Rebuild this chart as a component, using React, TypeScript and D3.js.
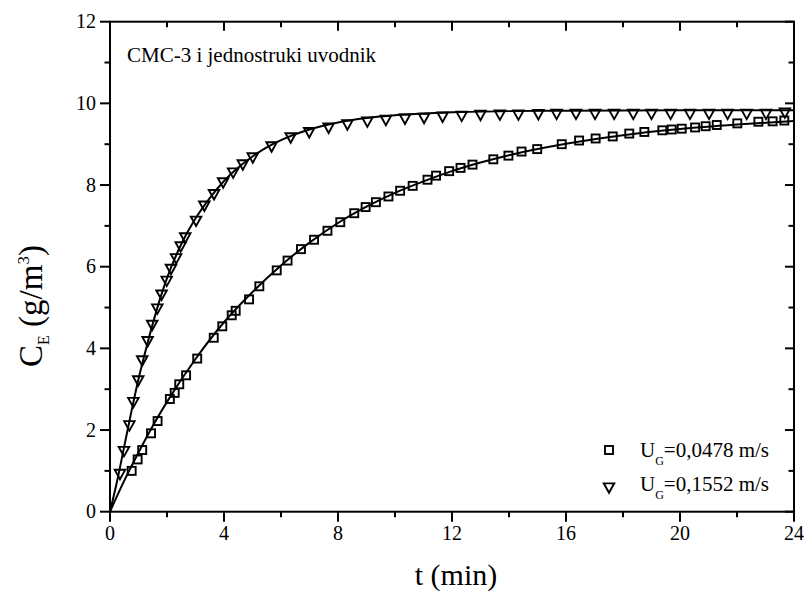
import React from "react";
import * as d3 from "d3";

// ---- data ----
const squareT = [0.76,0.97,1.13,1.44,1.67,2.10,2.27,2.43,2.67,3.06,3.64,3.94,4.27,4.41,4.88,5.24,5.85,6.23,6.70,7.16,7.63,8.08,8.57,8.97,9.33,9.77,10.18,10.62,11.14,11.44,11.90,12.30,12.72,13.45,13.98,14.44,14.99,15.85,16.46,17.04,17.64,18.22,18.75,19.38,19.71,20.06,20.53,20.90,21.29,22.01,22.75,23.25,23.66];
const squareC = [1.00,1.28,1.51,1.92,2.22,2.76,2.91,3.12,3.34,3.75,4.26,4.54,4.81,4.92,5.20,5.52,5.91,6.15,6.43,6.66,6.88,7.09,7.31,7.46,7.58,7.72,7.86,7.98,8.13,8.23,8.34,8.42,8.50,8.63,8.72,8.82,8.88,9.00,9.09,9.14,9.19,9.26,9.30,9.34,9.36,9.38,9.41,9.44,9.47,9.51,9.55,9.56,9.58];

const triT = [0.35,0.49,0.68,0.82,0.99,1.13,1.32,1.48,1.66,1.81,1.99,2.14,2.32,2.48,2.64,3.02,3.31,3.65,3.97,4.32,4.66,5.01,5.67,6.34,6.99,7.67,8.33,9.03,9.68,10.35,11.02,11.67,12.34,13.00,13.68,14.33,15.03,15.67,16.35,17.02,17.69,18.36,19.00,19.67,20.35,21.02,21.67,22.34,23.02,23.68];
const triC = [0.95,1.51,2.14,2.71,3.24,3.73,4.20,4.60,5.00,5.34,5.68,5.97,6.23,6.52,6.74,7.15,7.52,7.80,8.09,8.33,8.53,8.70,8.97,9.19,9.32,9.43,9.51,9.58,9.62,9.65,9.67,9.70,9.72,9.74,9.75,9.75,9.76,9.77,9.77,9.77,9.77,9.77,9.77,9.77,9.77,9.77,9.77,9.77,9.77,9.80];

// fitted curves
const fitSqT = [0,0.5,1,1.5,2,3,4,5,6,7,8,9,10,11,12,13,14,16,18,20,22,24];
const fitSqC = [0,0.76,1.45,2.1,2.69,3.74,4.64,5.38,6.03,6.59,7.07,7.47,7.81,8.09,8.34,8.55,8.73,9.01,9.22,9.37,9.48,9.57];
const fitTrT = [0,0.25,0.5,0.75,1,1.25,1.5,1.75,2,2.5,3,3.5,4,4.5,5,5.5,6,7,8,9,10,11,12,14,16,20,24];
const fitTrC = [0,0.75,1.6,2.45,3.25,3.95,4.6,5.2,5.72,6.55,7.18,7.68,8.1,8.43,8.7,8.92,9.1,9.36,9.53,9.64,9.71,9.75,9.78,9.81,9.82,9.83,9.83];

const xTicks = [0,4,8,12,16,20,24];
const yTicks = [0,2,4,6,8,10,12];
const legendLabels = ["=0,0478 m/s", "=0,1552 m/s"];
const annotation = "CMC-3 i jednostruki uvodnik";

const FONT = "'Liberation Serif', 'Times New Roman', serif";

export default function App() {
  const W = 806, H = 593;
  const x = d3.scaleLinear().domain([0, 24]).range([110, 794]);
  const y = d3.scaleLinear().domain([0, 12]).range([511.7, 21.7]);
  const [x0, x1] = x.range();
  const [y0, y1] = y.range();

  const line = d3.line<[number, number]>().x(d => x(d[0])).y(d => y(d[1])).curve(d3.curveMonotoneX);
  const sqLine = line(fitSqT.map((t, i) => [t, fitSqC[i]]) as [number, number][]) || "";
  const trLine = line(fitTrT.map((t, i) => [t, fitTrC[i]]) as [number, number][]) || "";

  const xMinor = d3.range(0, 25, 2).filter(v => v % 4 !== 0);
  const yMinor = d3.range(1, 12, 2);

  const sq = 8;
  const triPath = (cx: number, cy: number) => {
    const w = 10.5, h = 9.5;
    return `M${cx - w / 2},${cy - h / 3}L${cx + w / 2},${cy - h / 3}L${cx},${cy + (2 * h) / 3}Z`;
  };

  return (
    <svg width={W} height={H} style={{ position: "absolute", left: 0, top: 0, background: "#fff" }} fontFamily={FONT}>
      <rect x={0} y={0} width={W} height={H} fill="#fff" />
      {/* curves */}
      <path d={sqLine} fill="none" stroke="#000" strokeWidth={2} />
      <path d={trLine} fill="none" stroke="#000" strokeWidth={2} />
      {/* markers */}
      {squareT.map((t, i) => (
        <rect key={"s" + i} x={x(t) - sq / 2} y={y(squareC[i]) - sq / 2} width={sq} height={sq}
          fill="none" stroke="#000" strokeWidth={1.9} />
      ))}
      {triT.map((t, i) => (
        <path key={"t" + i} d={triPath(x(t), y(triC[i]))} fill="none" stroke="#000" strokeWidth={1.9} strokeLinejoin="miter" />
      ))}

      {/* frame */}
      <rect x={x0} y={y1} width={x1 - x0} height={y0 - y1} fill="none" stroke="#000" strokeWidth={2} />
      {/* bottom ticks (outward) and top ticks (inward) */}
      {xTicks.map(v => (
        <g key={"xt" + v}>
          <line x1={x(v)} x2={x(v)} y1={y0} y2={y0 + 10} stroke="#000" strokeWidth={2} />
          <line x1={x(v)} x2={x(v)} y1={y1} y2={y1 + 9} stroke="#000" strokeWidth={2} />
          <text x={x(v)} y={540} textAnchor="middle" fontSize={20}>{v}</text>
        </g>
      ))}
      {xMinor.map(v => (
        <g key={"xm" + v}>
          <line x1={x(v)} x2={x(v)} y1={y0} y2={y0 + 5.5} stroke="#000" strokeWidth={2} />
          <line x1={x(v)} x2={x(v)} y1={y1} y2={y1 + 5.5} stroke="#000" strokeWidth={2} />
        </g>
      ))}
      {yTicks.map(v => (
        <g key={"yt" + v}>
          <line x1={x0 - 10} x2={x0} y1={y(v)} y2={y(v)} stroke="#000" strokeWidth={2} />
          <line x1={x1 - 9} x2={x1} y1={y(v)} y2={y(v)} stroke="#000" strokeWidth={2} />
          <text x={96} y={y(v) + 6.7} textAnchor="end" fontSize={20}>{v}</text>
        </g>
      ))}
      {yMinor.map(v => (
        <g key={"ym" + v}>
          <line x1={x0 - 5.5} x2={x0} y1={y(v)} y2={y(v)} stroke="#000" strokeWidth={2} />
          <line x1={x1 - 5.5} x2={x1} y1={y(v)} y2={y(v)} stroke="#000" strokeWidth={2} />
        </g>
      ))}

      {/* annotation */}
      <text x={127} y={62} fontSize={21}>{annotation}</text>

      {/* legend */}
      <rect x={609 - sq / 2} y={450 - sq / 2} width={sq} height={sq} fill="none" stroke="#000" strokeWidth={1.9} />
      <path d={triPath(609, 486.5)} fill="none" stroke="#000" strokeWidth={1.9} />
      {legendLabels.map((lab, i) => (
        <text key={"lg" + i} x={640} y={456.7 + i * 34} fontSize={21}>
          U<tspan fontSize={12} dy={8}>G</tspan><tspan dy={-8}>{lab}</tspan>
        </text>
      ))}

      {/* axis titles */}
      <text x={456} y={585} textAnchor="middle" fontSize={30}>t (min)</text>
      <text transform="translate(42,306) rotate(-90)" textAnchor="middle" fontSize={33}>
        C<tspan fontSize={16} dy={7}>E</tspan><tspan dy={-7}>{" (g/m"}</tspan><tspan fontSize={17} dy={-13}>3</tspan><tspan dy={13}>)</tspan>
      </text>
    </svg>
  );
}
